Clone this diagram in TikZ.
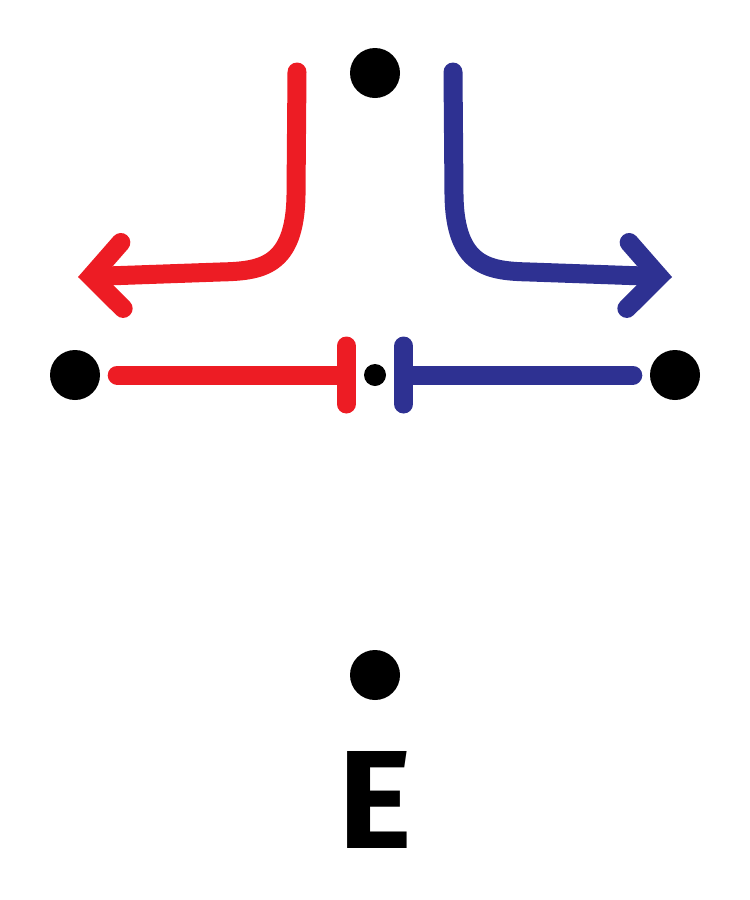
\documentclass[tikz,border=0pt]{standalone}
\usepackage{fontspec}
\setsansfont{Fira Sans}
\usetikzlibrary{arrows.meta}
\definecolor{chRed}{HTML}{ED1C24}
\definecolor{chBlue}{HTML}{2E3192}

\begin{document}
\begin{tikzpicture}[x=1pt, y=-1pt,
    dot/.style={circle, fill=black, inner sep=0pt, minimum size=50pt},
    smalldot/.style={circle, fill=black, inner sep=0pt, minimum size=22pt},
    stroke/.style={line width=19pt, line cap=round, line join=round},
    turn/.style={stroke, -{Straight Barb[length=31pt, width=66pt, line cap=round, line join=miter]}},
    halt/.style={stroke, -{Bar[width=58pt, line cap=round]}, shorten <=17pt, shorten >=8pt},
  ]
  \useasboundingbox (0,0) rectangle (750,900);

  % Charges
  \node[dot] (top) at (375,73) {};
  \node[dot] (left) at (75,375) {};
  \node[dot] (right) at (675,375) {};
  \node[smalldot] (mid) at (375,375) {};
  \node[dot] (bottom) at (375,675) {};
  \node[font=\sffamily\bfseries\fontsize{140}{140}\selectfont, inner sep=0pt]
    (field) at (375,800) {E};

  % Bent arrows
  \coordinate (redstart) at (297,72);
  \coordinate (redtip) at (78,277);
  \coordinate (bluestart) at (453,72);
  \coordinate (bluetip) at (672,277);
  \draw[turn, chRed] (redstart) -- (296,195)
    .. controls (295,268) and (260,271) .. (220,272) -- (redtip);
  \draw[turn, chBlue] (bluestart) -- (454,195)
    .. controls (455,268) and (490,271) .. (530,272) -- (bluetip);

  % Stopped lines
  \draw[halt, chRed] (left) -- (mid);
  \draw[halt, chBlue] (right) -- (mid);
\end{tikzpicture}
\end{document}
